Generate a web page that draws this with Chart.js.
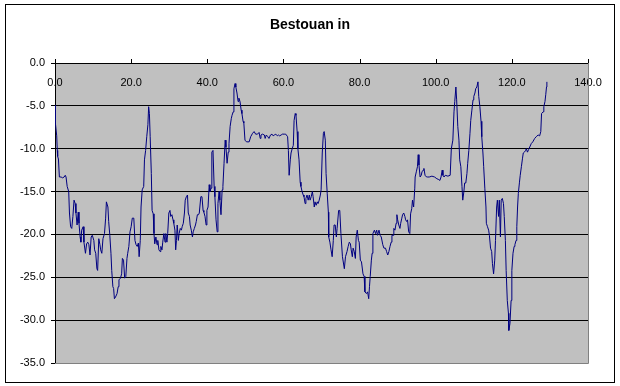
<!DOCTYPE html>
<html>
<head>
<meta charset="utf-8">
<script src="https://cdn.jsdelivr.net/npm/chart.js@4.4.1/dist/chart.umd.min.js"></script>
<style>
    body { margin: 0; background: #fff; }
    canvas { display: block; }
</style>
</head>
<body>
<canvas id="depthChart" width="620" height="386"></canvas>
<script>
// Distance along the track and depth
const distance = [
    0, 0.1, 0.45, 0.6, 0.7, 0.9, 1.15, 1.6, 2.0, 2.4, 2.7, 2.9, 3.2, 3.6, 3.8, 4.1, 4.4, 4.7, 5.0, 5.3,
    5.5, 5.8, 6.1, 6.3, 6.6, 6.8, 7.0, 7.4, 7.6, 8.0, 8.3, 8.6, 8.9, 9.2, 9.5, 9.8, 10.2, 10.4, 10.7, 11.0,
    11.2, 11.5, 11.8, 12.0, 12.3, 12.6, 13.0, 13.3, 13.5, 13.9, 14.1, 14.4, 14.7, 14.9, 15.2, 15.4, 15.6, 15.9, 16.3, 16.6,
    16.8, 17.2, 17.5, 17.7, 18.0, 18.3, 18.6, 18.9, 19.1, 19.4, 19.7, 20.0, 20.3, 20.7, 21.0, 21.3, 21.6, 21.9, 22.1, 22.4,
    22.6, 22.9, 23.3, 23.5, 23.8, 24.1, 24.4, 24.6, 24.8, 25.0, 25.3, 25.5, 25.8, 26.0, 26.2, 26.5, 26.8, 27.0, 27.3, 27.6,
    27.8, 28.1, 28.3, 28.6, 28.9, 29.1, 29.4, 29.6, 29.9, 30.2, 30.4, 30.7, 31.0, 31.2, 31.5, 31.7, 31.9, 32.1, 32.4, 32.6,
    32.9, 33.2, 33.4, 33.7, 34.0, 34.2, 34.5, 34.8, 35.0, 35.3, 35.5, 35.8, 36.1, 36.3, 36.6, 36.9, 37.1, 37.4, 37.7, 37.9,
    38.3, 38.6, 38.9, 39.1, 39.4, 39.7, 39.9, 40.2, 40.5, 40.7, 41.0, 41.2, 41.5, 41.8, 42.0, 42.3, 42.6, 42.8, 43.1, 43.3,
    43.6, 43.9, 44.1, 44.4, 44.7, 44.9, 45.2, 45.5, 45.7, 46.0, 46.3, 46.5, 46.8, 47.0, 47.3, 47.5, 47.8, 48.1, 48.3, 48.6,
    48.9, 49.1, 49.4, 49.6, 49.9, 50.3, 51.0, 51.4, 51.9, 52.3, 52.7, 53.2, 53.6, 53.9, 54.1, 54.5, 55.0, 55.2, 55.5, 55.9,
    56.2, 56.6, 57.0, 57.3, 57.6, 58.0, 58.4, 58.7, 59.0, 59.4, 59.7, 60.2, 60.6, 61.1, 61.3, 61.5, 61.8, 62.0, 62.3, 62.6,
    62.8, 63.1, 63.3, 63.6, 63.8, 64.1, 64.4, 64.6, 64.9, 65.2, 65.4, 65.7, 65.9, 66.2, 66.5, 66.8, 67.0, 67.3, 67.6, 67.8,
    68.1, 68.3, 68.6, 68.9, 69.1, 69.4, 69.7, 69.9, 70.2, 70.5, 70.7, 71.0, 71.2, 71.5, 71.8, 71.9, 72.2, 72.5, 72.8, 73.1,
    73.3, 73.6, 73.9, 74.1, 74.5, 74.8, 75.1, 75.5, 76.0, 76.3, 76.7, 77.0, 77.3, 77.6, 77.8, 78.1, 78.3, 78.6, 78.9, 79.1,
    79.4, 79.7, 79.9, 80.2, 80.5, 80.9, 81.2, 81.4, 81.8, 82.1, 82.4, 82.6, 82.8, 83.1, 83.3, 83.5, 83.9, 84.2, 84.5, 84.7,
    85.1, 85.4, 85.7, 86.1, 86.4, 86.8, 87.1, 87.4, 87.7, 88.0, 88.3, 88.5, 88.8, 89.0, 89.3, 89.6, 89.8, 90.0, 90.3, 90.6,
    90.8, 91.1, 91.3, 91.6, 91.9, 92.1, 92.4, 92.6, 92.9, 93.2, 93.4, 93.7, 93.9, 94.2, 94.5, 94.6, 94.9, 95.2, 95.4, 95.6,
    95.9, 96.2, 96.4, 96.7, 96.9, 97.2, 97.6, 97.9, 98.3, 99.0, 99.7, 100.3, 100.8, 101.1, 101.4, 101.7, 101.9, 102.2, 102.5, 103.2,
    103.8, 104.1, 104.5, 104.8, 105.0, 105.3, 105.5, 105.8, 106.1, 106.3, 106.6, 106.9, 107.1, 107.4, 107.6, 107.9, 108.2, 108.4, 108.7, 109.0,
    109.2, 109.5, 109.8, 110.0, 110.3, 110.5, 110.8, 111.1, 111.3, 111.6, 111.9, 112.1, 112.4, 112.6, 112.9, 113.2, 113.3, 113.6, 113.9, 114.1,
    114.4, 114.7, 114.9, 115.2, 115.5, 115.7, 116.0, 116.2, 116.5, 116.7, 117.0, 117.2, 117.5, 117.8, 118.0, 118.3, 118.5, 118.8, 119.1, 119.2,
    119.5, 119.8, 120.0, 120.3, 120.6, 120.8, 121.1, 121.3, 121.5, 121.7, 122.0, 122.2, 122.5, 122.8, 123.0, 123.3, 123.6, 123.8, 124.1, 124.4,
    124.7, 125.1, 125.5, 126.0, 126.4, 126.9, 127.3, 127.6, 127.8, 128.2, 128.4, 128.7, 128.9, 129.1, 129.2
];

const depth = [
    -4.9, -7.0, -8.5, -10.2, -10.9, -11.2, -13.3, -13.3, -13.4, -13.3, -13.1, -13.3, -14.4, -15.0, -17.5, -19.1, -19.3, -17.9, -16.0, -16.4,
    -17.5, -18.9, -17.4, -18.7, -20.3, -20.9, -19.5, -19.1, -20.9, -22.2, -21.1, -20.9, -21.2, -22.4, -20.3, -20.1, -20.7, -21.8, -22.2, -24.0,
    -24.2, -20.5, -21.2, -21.8, -22.2, -20.5, -19.9, -18.1, -16.2, -16.8, -18.5, -20.1, -22.2, -24.2, -26.1, -26.3, -27.5, -27.3, -26.9, -26.1,
    -25.3, -25.1, -24.6, -22.8, -23.0, -25.1, -24.9, -22.8, -22.2, -21.4, -19.7, -19.1, -18.1, -18.1, -20.7, -21.2, -21.4, -21.0, -22.6, -20.7,
    -16.8, -14.8, -14.4, -11.3, -10.2, -8.6, -7.2, -5.1, -5.9, -8.6, -12.9, -17.2, -17.6, -19.9, -21.1, -20.3, -21.2, -20.7, -21.8, -22.0,
    -21.4, -21.8, -20.9, -19.9, -20.9, -19.9, -20.9, -19.9, -17.5, -17.2, -17.9, -17.7, -18.3, -18.7, -19.5, -21.8, -20.7, -18.9, -20.7, -19.9,
    -19.3, -19.5, -19.1, -18.7, -17.5, -16.0, -15.6, -15.4, -17.5, -17.9, -18.9, -19.5, -20.3, -19.7, -19.3, -18.9, -18.5, -17.7, -17.7, -17.5,
    -15.6, -15.6, -17.2, -17.4, -17.9, -18.9, -17.2, -16.8, -14.2, -15.0, -14.6, -10.4, -10.2, -14.4, -15.6, -18.3, -19.7, -16.4, -15.0, -16.0,
    -17.7, -14.8, -14.4, -11.7, -9.0, -9.8, -11.7, -10.4, -9.4, -7.4, -6.5, -6.1, -5.7, -3.0, -2.4, -2.8, -3.5, -4.5, -4.1, -4.5,
    -5.5, -5.9, -6.8, -7.0, -9.0, -9.2, -9.2, -8.6, -8.2, -8.0, -8.3, -8.3, -8.1, -8.8, -8.4, -8.3, -8.4, -8.8, -8.4, -8.6,
    -8.8, -8.4, -8.3, -8.5, -8.4, -8.3, -8.5, -8.4, -8.5, -8.4, -8.3, -8.3, -8.3, -8.6, -10.2, -13.1, -11.3, -10.5, -10.0, -9.6,
    -6.7, -5.9, -6.1, -8.0, -10.0, -11.3, -13.9, -14.4, -15.0, -15.4, -15.6, -16.4, -15.8, -15.4, -16.0, -15.4, -16.0, -15.6, -15.0, -15.6,
    -16.8, -16.2, -16.6, -16.2, -16.4, -16.0, -15.4, -14.8, -10.5, -8.2, -8.0, -9.0, -12.9, -15.2, -17.4, -20.3, -20.9, -21.8, -22.6, -20.7,
    -18.9, -18.9, -20.3, -19.3, -17.2, -17.2, -19.9, -22.6, -24.0, -22.6, -22.0, -21.4, -20.9, -21.1, -21.8, -22.6, -21.6, -22.0, -22.8, -20.3,
    -19.5, -20.7, -20.9, -23.0, -23.2, -24.6, -24.9, -26.7, -26.9, -26.7, -27.5, -26.1, -24.9, -23.0, -22.2, -19.9, -19.5, -19.9, -19.5, -20.1,
    -19.5, -20.1, -20.3, -21.2, -21.6, -21.6, -22.0, -22.4, -22.0, -21.4, -20.9, -20.1, -20.1, -19.3, -19.5, -18.7, -17.7, -18.3, -18.9, -19.3,
    -18.7, -18.1, -17.7, -17.5, -17.9, -18.3, -18.5, -18.3, -19.7, -19.9, -17.6, -17.0, -16.0, -16.8, -14.6, -13.3, -12.7, -12.1, -10.7, -11.9,
    -13.3, -13.1, -12.7, -12.5, -12.3, -13.1, -13.3, -13.3, -13.3, -13.2, -13.3, -13.5, -13.6, -13.7, -13.3, -12.5, -13.1, -13.3, -13.1, -13.2,
    -13.1, -10.0, -9.0, -5.7, -4.5, -2.8, -4.3, -7.4, -9.0, -11.3, -12.1, -14.4, -16.0, -15.0, -14.0, -14.0, -12.9, -11.7, -10.2, -8.2,
    -6.7, -5.5, -4.3, -3.9, -3.5, -3.0, -2.8, -2.2, -3.9, -5.1, -6.8, -8.6, -10.5, -12.1, -14.6, -16.8, -18.7, -19.1, -19.5, -20.1,
    -21.6, -22.0, -23.4, -24.6, -23.0, -20.7, -16.8, -16.0, -17.9, -16.0, -20.3, -16.0, -15.8, -16.4, -17.9, -20.7, -24.2, -27.7, -29.2, -31.2,
    -30.4, -27.7, -24.2, -22.2, -21.4, -21.2, -20.7, -19.1, -16.8, -15.2, -13.9, -13.1, -12.1, -11.1, -10.5, -10.4, -10.2, -10.0, -10.4, -10.1,
    -9.8, -9.4, -9.2, -8.8, -8.6, -8.4, -8.5, -8.0, -5.9, -5.7, -5.1, -4.5, -3.7, -2.8, -2.2
];

const chartTitle = 'Bestouan in';
const xTicks = [0, 20, 40, 60, 80, 100, 120, 140];
const yTicks = [0, -5, -10, -15, -20, -25, -30, -35];

const fontFamily = "'Liberation Sans', Arial, sans-serif";

// Серый фон области построения, рамки и заголовок в стиле Excel
const excelFrame = {
    id: 'excelFrame',
    beforeDraw(chart) {
        const { ctx, chartArea: a } = chart;
        ctx.save();
        ctx.fillStyle = '#fff';
        ctx.fillRect(0, 0, chart.width, chart.height);
        ctx.strokeStyle = '#000';
        ctx.lineWidth = 1;
        ctx.strokeRect(5.5, 4.5, 609, 378);
        ctx.fillStyle = '#c0c0c0';
        ctx.fillRect(a.left, a.top, a.right - a.left, a.bottom - a.top);
        // заголовок по центру рамки
        ctx.fillStyle = '#000';
        ctx.font = 'bold 14px ' + fontFamily;
        ctx.textAlign = 'center';
        ctx.textBaseline = 'middle';
        ctx.fillText(chartTitle, 310, 25);
        ctx.restore();
    },
    afterDraw(chart) {
        const { ctx, chartArea: a } = chart;
        const xs = chart.scales.x;
        ctx.save();
        // правая и нижняя граница
        ctx.strokeStyle = '#808080';
        ctx.lineWidth = 1;
        ctx.beginPath();
        ctx.moveTo(a.left, Math.round(a.bottom) + 0.5);
        ctx.lineTo(Math.round(a.right) + 0.5, Math.round(a.bottom) + 0.5);
        ctx.lineTo(Math.round(a.right) + 0.5, a.top);
        ctx.stroke();
        // засечки оси X вверх
        ctx.strokeStyle = '#000';
        ctx.beginPath();
        xs.ticks.forEach(t => {
            const px = Math.round(xs.getPixelForValue(t.value)) + 0.5;
            ctx.moveTo(px, a.top - 4);
            ctx.lineTo(px, a.top);
        });
        ctx.stroke();
        ctx.restore();
    }
};

new Chart(document.getElementById('depthChart'), {
    type: 'scatter',
    data: {
        datasets: [{
            label: chartTitle,
            data: distance.map((d, i) => ({ x: d, y: depth[i] })),
            showLine: true,
            borderColor: '#000080',
            borderWidth: 1,
            pointRadius: 0,
            tension: 0
        }]
    },
    options: {
        responsive: false,
        animation: false,
        layout: {
            padding: { left: 0, top: 63, right: 32, bottom: 23 }
        },
        plugins: {
            legend: { display: false },
            tooltip: { enabled: false },
            title: { display: false }
        },
        scales: {
            x: {
                type: 'linear',
                position: { y: 0 },
                min: 0,
                max: 140,
                afterBuildTicks: scale => {
                    scale.ticks = xTicks.map(v => ({ value: v }));
                },
                grid: { display: false },
                border: { display: true, color: '#000', width: 1 },
                ticks: {
                    color: '#000',
                    font: { family: fontFamily, size: 11 },
                    padding: 5,
                    maxRotation: 0,
                    callback: v => v.toFixed(1)
                }
            },
            y: {
                type: 'linear',
                position: 'left',
                min: -35,
                max: 0,
                afterBuildTicks: scale => {
                    scale.ticks = yTicks.map(v => ({ value: v }));
                },
                afterFit: scale => {
                    scale.width = 55;
                },
                grid: {
                    color: ctx => (ctx.tick && ctx.tick.value === -35) ? '#808080' : '#000',
                    lineWidth: 1,
                    drawTicks: true,
                    tickLength: 4,
                    tickColor: '#000'
                },
                border: { display: true, color: '#000', width: 1 },
                ticks: {
                    color: '#000',
                    font: { family: fontFamily, size: 11 },
                    padding: 6,
                    callback: v => v.toFixed(1)
                }
            }
        }
    },
    plugins: [excelFrame]
});
</script>
</body>
</html>
